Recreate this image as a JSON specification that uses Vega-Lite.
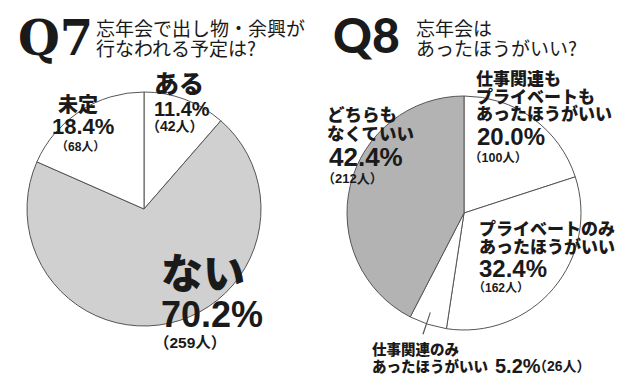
{
  "$schema": "https://vega.github.io/schema/vega-lite/v6.json",
  "width": 640,
  "height": 388,
  "autosize": {"type": "fit", "contains": "padding"},
  "padding": 0,
  "background": "white",
  "config": {"view": {"stroke": null}, "text": {"color": "#1a1a1a"}},
  "datasets": {
    "slices": [
      {"q": "Q7", "o": 1, "label": "ある", "pct": 0.114, "n": 42},
      {"q": "Q7", "o": 2, "label": "ない", "pct": 0.702, "n": 259},
      {"q": "Q7", "o": 3, "label": "未定", "pct": 0.184, "n": 68},
      {"q": "Q8", "o": 1, "label": "仕事関連も\nプライベートも\nあったほうがいい", "pct": 0.2, "n": 100},
      {"q": "Q8", "o": 2, "label": "プライベートのみ\nあったほうがいい", "pct": 0.324, "n": 162},
      {"q": "Q8", "o": 3, "label": "仕事関連のみ\nあったほうがいい", "pct": 0.052, "n": 26},
      {"q": "Q8", "o": 4, "label": "どちらも\nなくていい", "pct": 0.424, "n": 212}
    ],
    "titles": [
      {"q": "Q7", "code": "Q7", "question": "忘年会で出し物・余興が\n行なわれる予定は?"},
      {"q": "Q8", "code": "Q8", "question": "忘年会は\nあったほうがいい?"}
    ]
  },
  "data": {"name": "slices"},
  "encoding": {
    "x": {"field": "q", "type": "nominal", "scale": {"type": "point", "domain": ["Q7", "Q8"], "range": [144, 464], "padding": 0}, "axis": null},
    "y": {"field": "q", "type": "nominal", "scale": {"type": "point", "domain": ["Q7", "Q8"], "range": [209, 213], "padding": 0}, "axis": null}
  },
  "layer": [
    {
      "transform": [{"filter": "datum.q == 'Q7'"}],
      "mark": {"type": "arc", "radius": 117, "stroke": "#555555", "strokeWidth": 1},
      "encoding": {
        "theta": {"field": "pct", "type": "quantitative", "stack": true},
        "order": {"field": "o", "type": "quantitative"},
        "fill": {"field": "label", "type": "nominal", "legend": null,
          "scale": {"domain": ["ある", "ない", "未定", "仕事関連も\nプライベートも\nあったほうがいい", "プライベートのみ\nあったほうがいい", "仕事関連のみ\nあったほうがいい", "どちらも\nなくていい"],
                    "range": ["#ffffff", "#d0d0d0", "#ffffff", "#ffffff", "#ffffff", "#ffffff", "#b3b3b3"]}}
      }
    },
    {
      "transform": [{"filter": "datum.q == 'Q8'"}],
      "mark": {"type": "arc", "radius": 117, "stroke": "#555555", "strokeWidth": 1},
      "encoding": {
        "theta": {"field": "pct", "type": "quantitative", "stack": true},
        "order": {"field": "o", "type": "quantitative"},
        "fill": {"field": "label", "type": "nominal", "legend": null}
      }
    },
    {
      "transform": [{"filter": "datum.q == 'Q8' && datum.o == 3"}],
      "mark": {"type": "arc", "theta": 3.463, "theta2": 3.473, "radius2": 105, "radius": 128, "fill": "#555555", "stroke": null},
      "encoding": {}
    },
    {
      "data": {"name": "titles"},
      "transform": [{"filter": "datum.q == 'Q7'"}],
      "mark": {"type": "text", "align": "left", "baseline": "top", "dx": -126, "dy": -192, "font": "DejaVu Serif", "fontWeight": "bold", "fontSize": 48, "color": "#1a1a1a"},
      "encoding": {"text": {"field": "code"}}
    },
    {
      "data": {"name": "titles"},
      "transform": [{"filter": "datum.q == 'Q8'"}],
      "mark": {"type": "text", "align": "left", "baseline": "top", "dx": -131, "dy": -198, "font": "Lato", "fontWeight": 900, "fontSize": 48, "color": "#1a1a1a"},
      "encoding": {"text": {"field": "code"}}
    },
    {
      "data": {"name": "titles"},
      "transform": [{"filter": "datum.q == 'Q7'"}],
      "mark": {"type": "text", "align": "left", "baseline": "top", "dx": -48, "dy": -188, "font": "Noto Sans CJK JP", "fontSize": 19, "lineHeight": 20, "lineBreak": "\n", "color": "#1a1a1a"},
      "encoding": {"text": {"field": "question"}}
    },
    {
      "data": {"name": "titles"},
      "transform": [{"filter": "datum.q == 'Q8'"}],
      "mark": {"type": "text", "align": "left", "baseline": "top", "dx": -48, "dy": -192, "font": "Noto Sans CJK JP", "fontSize": 19, "lineHeight": 20, "lineBreak": "\n", "color": "#1a1a1a"},
      "encoding": {"text": {"field": "question"}}
    },

    {
      "transform": [{"filter": "datum.q == 'Q7' && datum.o == 1"}],
      "mark": {"type": "text", "align": "left", "baseline": "top", "dx": 10, "dy": -136, "font": "Noto Sans CJK JP", "fontWeight": 900, "fontSize": 25, "color": "#1a1a1a"},
      "encoding": {"text": {"field": "label"}}
    },
    {
      "transform": [{"filter": "datum.q == 'Q7' && datum.o == 1"}],
      "mark": {"type": "text", "align": "left", "baseline": "top", "dx": 10, "dy": -109, "font": "Liberation Sans", "fontWeight": "bold", "fontSize": 20, "color": "#1a1a1a"},
      "encoding": {"text": {"field": "pct", "type": "quantitative", "format": ".1%"}}
    },
    {
      "transform": [{"filter": "datum.q == 'Q7' && datum.o == 1"}, {"calculate": "'（' + datum.n + '人）'", "as": "cnt"}],
      "mark": {"type": "text", "align": "left", "baseline": "top", "dx": 2, "dy": -89, "font": "Liberation Sans, Noto Sans CJK JP", "fontWeight": "bold", "fontSize": 14, "color": "#1a1a1a"},
      "encoding": {"text": {"field": "cnt"}}
    },

    {
      "transform": [{"filter": "datum.q == 'Q7' && datum.o == 3"}],
      "mark": {"type": "text", "align": "left", "baseline": "top", "dx": -86, "dy": -113, "font": "Noto Sans CJK JP", "fontWeight": 900, "fontSize": 20, "color": "#1a1a1a"},
      "encoding": {"text": {"field": "label"}}
    },
    {
      "transform": [{"filter": "datum.q == 'Q7' && datum.o == 3"}],
      "mark": {"type": "text", "align": "left", "baseline": "top", "dx": -92, "dy": -92, "font": "Liberation Sans", "fontWeight": "bold", "fontSize": 22, "color": "#1a1a1a"},
      "encoding": {"text": {"field": "pct", "type": "quantitative", "format": ".1%"}}
    },
    {
      "transform": [{"filter": "datum.q == 'Q7' && datum.o == 3"}, {"calculate": "'（' + datum.n + '人）'", "as": "cnt"}],
      "mark": {"type": "text", "align": "left", "baseline": "top", "dx": -88, "dy": -67, "font": "Liberation Sans, Noto Sans CJK JP", "fontWeight": "bold", "fontSize": 12, "color": "#1a1a1a"},
      "encoding": {"text": {"field": "cnt"}}
    },

    {
      "transform": [{"filter": "datum.q == 'Q7' && datum.o == 2"}],
      "mark": {"type": "text", "align": "left", "baseline": "top", "dx": 17, "dy": 47, "font": "Noto Sans CJK JP", "fontWeight": 900, "fontSize": 42, "color": "#1a1a1a"},
      "encoding": {"text": {"field": "label"}}
    },
    {
      "transform": [{"filter": "datum.q == 'Q7' && datum.o == 2"}],
      "mark": {"type": "text", "align": "left", "baseline": "top", "dx": 17, "dy": 90, "font": "Liberation Sans", "fontWeight": "bold", "fontSize": 36, "color": "#1a1a1a"},
      "encoding": {"text": {"field": "pct", "type": "quantitative", "format": ".1%"}}
    },
    {
      "transform": [{"filter": "datum.q == 'Q7' && datum.o == 2"}, {"calculate": "'（' + datum.n + '人）'", "as": "cnt"}],
      "mark": {"type": "text", "align": "left", "baseline": "top", "dx": 10, "dy": 127, "font": "Liberation Sans, Noto Sans CJK JP", "fontWeight": "bold", "fontSize": 15.5, "color": "#1a1a1a"},
      "encoding": {"text": {"field": "cnt"}}
    },

    {
      "transform": [{"filter": "datum.q == 'Q8' && datum.o == 1"}],
      "mark": {"type": "text", "align": "left", "baseline": "top", "dx": 12, "dy": -141, "font": "Noto Sans CJK JP", "fontWeight": 900, "fontSize": 17, "lineHeight": 17.5, "lineBreak": "\n", "color": "#1a1a1a"},
      "encoding": {"text": {"field": "label"}}
    },
    {
      "transform": [{"filter": "datum.q == 'Q8' && datum.o == 1"}],
      "mark": {"type": "text", "align": "left", "baseline": "top", "dx": 13, "dy": -87, "font": "Liberation Sans", "fontWeight": "bold", "fontSize": 24, "color": "#1a1a1a"},
      "encoding": {"text": {"field": "pct", "type": "quantitative", "format": ".1%"}}
    },
    {
      "transform": [{"filter": "datum.q == 'Q8' && datum.o == 1"}, {"calculate": "'（' + datum.n + '人）'", "as": "cnt"}],
      "mark": {"type": "text", "align": "left", "baseline": "top", "dx": 5, "dy": -61, "font": "Liberation Sans, Noto Sans CJK JP", "fontWeight": "bold", "fontSize": 12.5, "color": "#1a1a1a"},
      "encoding": {"text": {"field": "cnt"}}
    },

    {
      "transform": [{"filter": "datum.q == 'Q8' && datum.o == 4"}],
      "mark": {"type": "text", "align": "left", "baseline": "top", "dx": -137, "dy": -106, "font": "Noto Sans CJK JP", "fontWeight": 900, "fontSize": 17.5, "lineHeight": 18.5, "lineBreak": "\n", "color": "#1a1a1a"},
      "encoding": {"text": {"field": "label"}}
    },
    {
      "transform": [{"filter": "datum.q == 'Q8' && datum.o == 4"}],
      "mark": {"type": "text", "align": "left", "baseline": "top", "dx": -135, "dy": -68, "font": "Liberation Sans", "fontWeight": "bold", "fontSize": 26, "color": "#1a1a1a"},
      "encoding": {"text": {"field": "pct", "type": "quantitative", "format": ".1%"}}
    },
    {
      "transform": [{"filter": "datum.q == 'Q8' && datum.o == 4"}, {"calculate": "'（' + datum.n + '人）'", "as": "cnt"}],
      "mark": {"type": "text", "align": "left", "baseline": "top", "dx": -142, "dy": -40, "font": "Liberation Sans, Noto Sans CJK JP", "fontWeight": "bold", "fontSize": 13, "color": "#1a1a1a"},
      "encoding": {"text": {"field": "cnt"}}
    },

    {
      "transform": [{"filter": "datum.q == 'Q8' && datum.o == 2"}],
      "mark": {"type": "text", "align": "left", "baseline": "top", "dx": 15, "dy": 9, "font": "Noto Sans CJK JP", "fontWeight": 900, "fontSize": 17, "lineHeight": 18, "lineBreak": "\n", "color": "#1a1a1a"},
      "encoding": {"text": {"field": "label"}}
    },
    {
      "transform": [{"filter": "datum.q == 'Q8' && datum.o == 2"}],
      "mark": {"type": "text", "align": "left", "baseline": "top", "dx": 15, "dy": 45, "font": "Liberation Sans", "fontWeight": "bold", "fontSize": 24, "color": "#1a1a1a"},
      "encoding": {"text": {"field": "pct", "type": "quantitative", "format": ".1%"}}
    },
    {
      "transform": [{"filter": "datum.q == 'Q8' && datum.o == 2"}, {"calculate": "'（' + datum.n + '人）'", "as": "cnt"}],
      "mark": {"type": "text", "align": "left", "baseline": "top", "dx": 9, "dy": 70, "font": "Liberation Sans, Noto Sans CJK JP", "fontWeight": "bold", "fontSize": 12, "color": "#1a1a1a"},
      "encoding": {"text": {"field": "cnt"}}
    },

    {
      "transform": [{"filter": "datum.q == 'Q8' && datum.o == 3"}],
      "mark": {"type": "text", "align": "left", "baseline": "top", "dx": -92, "dy": 131, "font": "Noto Sans CJK JP", "fontWeight": 900, "fontSize": 14.5, "lineHeight": 17, "lineBreak": "\n", "color": "#1a1a1a"},
      "encoding": {"text": {"field": "label"}}
    },
    {
      "transform": [{"filter": "datum.q == 'Q8' && datum.o == 3"}],
      "mark": {"type": "text", "align": "left", "baseline": "top", "dx": 31, "dy": 144, "font": "Liberation Sans", "fontWeight": "bold", "fontSize": 20, "color": "#1a1a1a"},
      "encoding": {"text": {"field": "pct", "type": "quantitative", "format": ".1%"}}
    },
    {
      "transform": [{"filter": "datum.q == 'Q8' && datum.o == 3"}, {"calculate": "'（' + datum.n + '人）'", "as": "cnt"}],
      "mark": {"type": "text", "align": "left", "baseline": "top", "dx": 69, "dy": 147, "font": "Liberation Sans, Noto Sans CJK JP", "fontWeight": "bold", "fontSize": 14, "color": "#1a1a1a"},
      "encoding": {"text": {"field": "cnt"}}
    }
  ]
}
